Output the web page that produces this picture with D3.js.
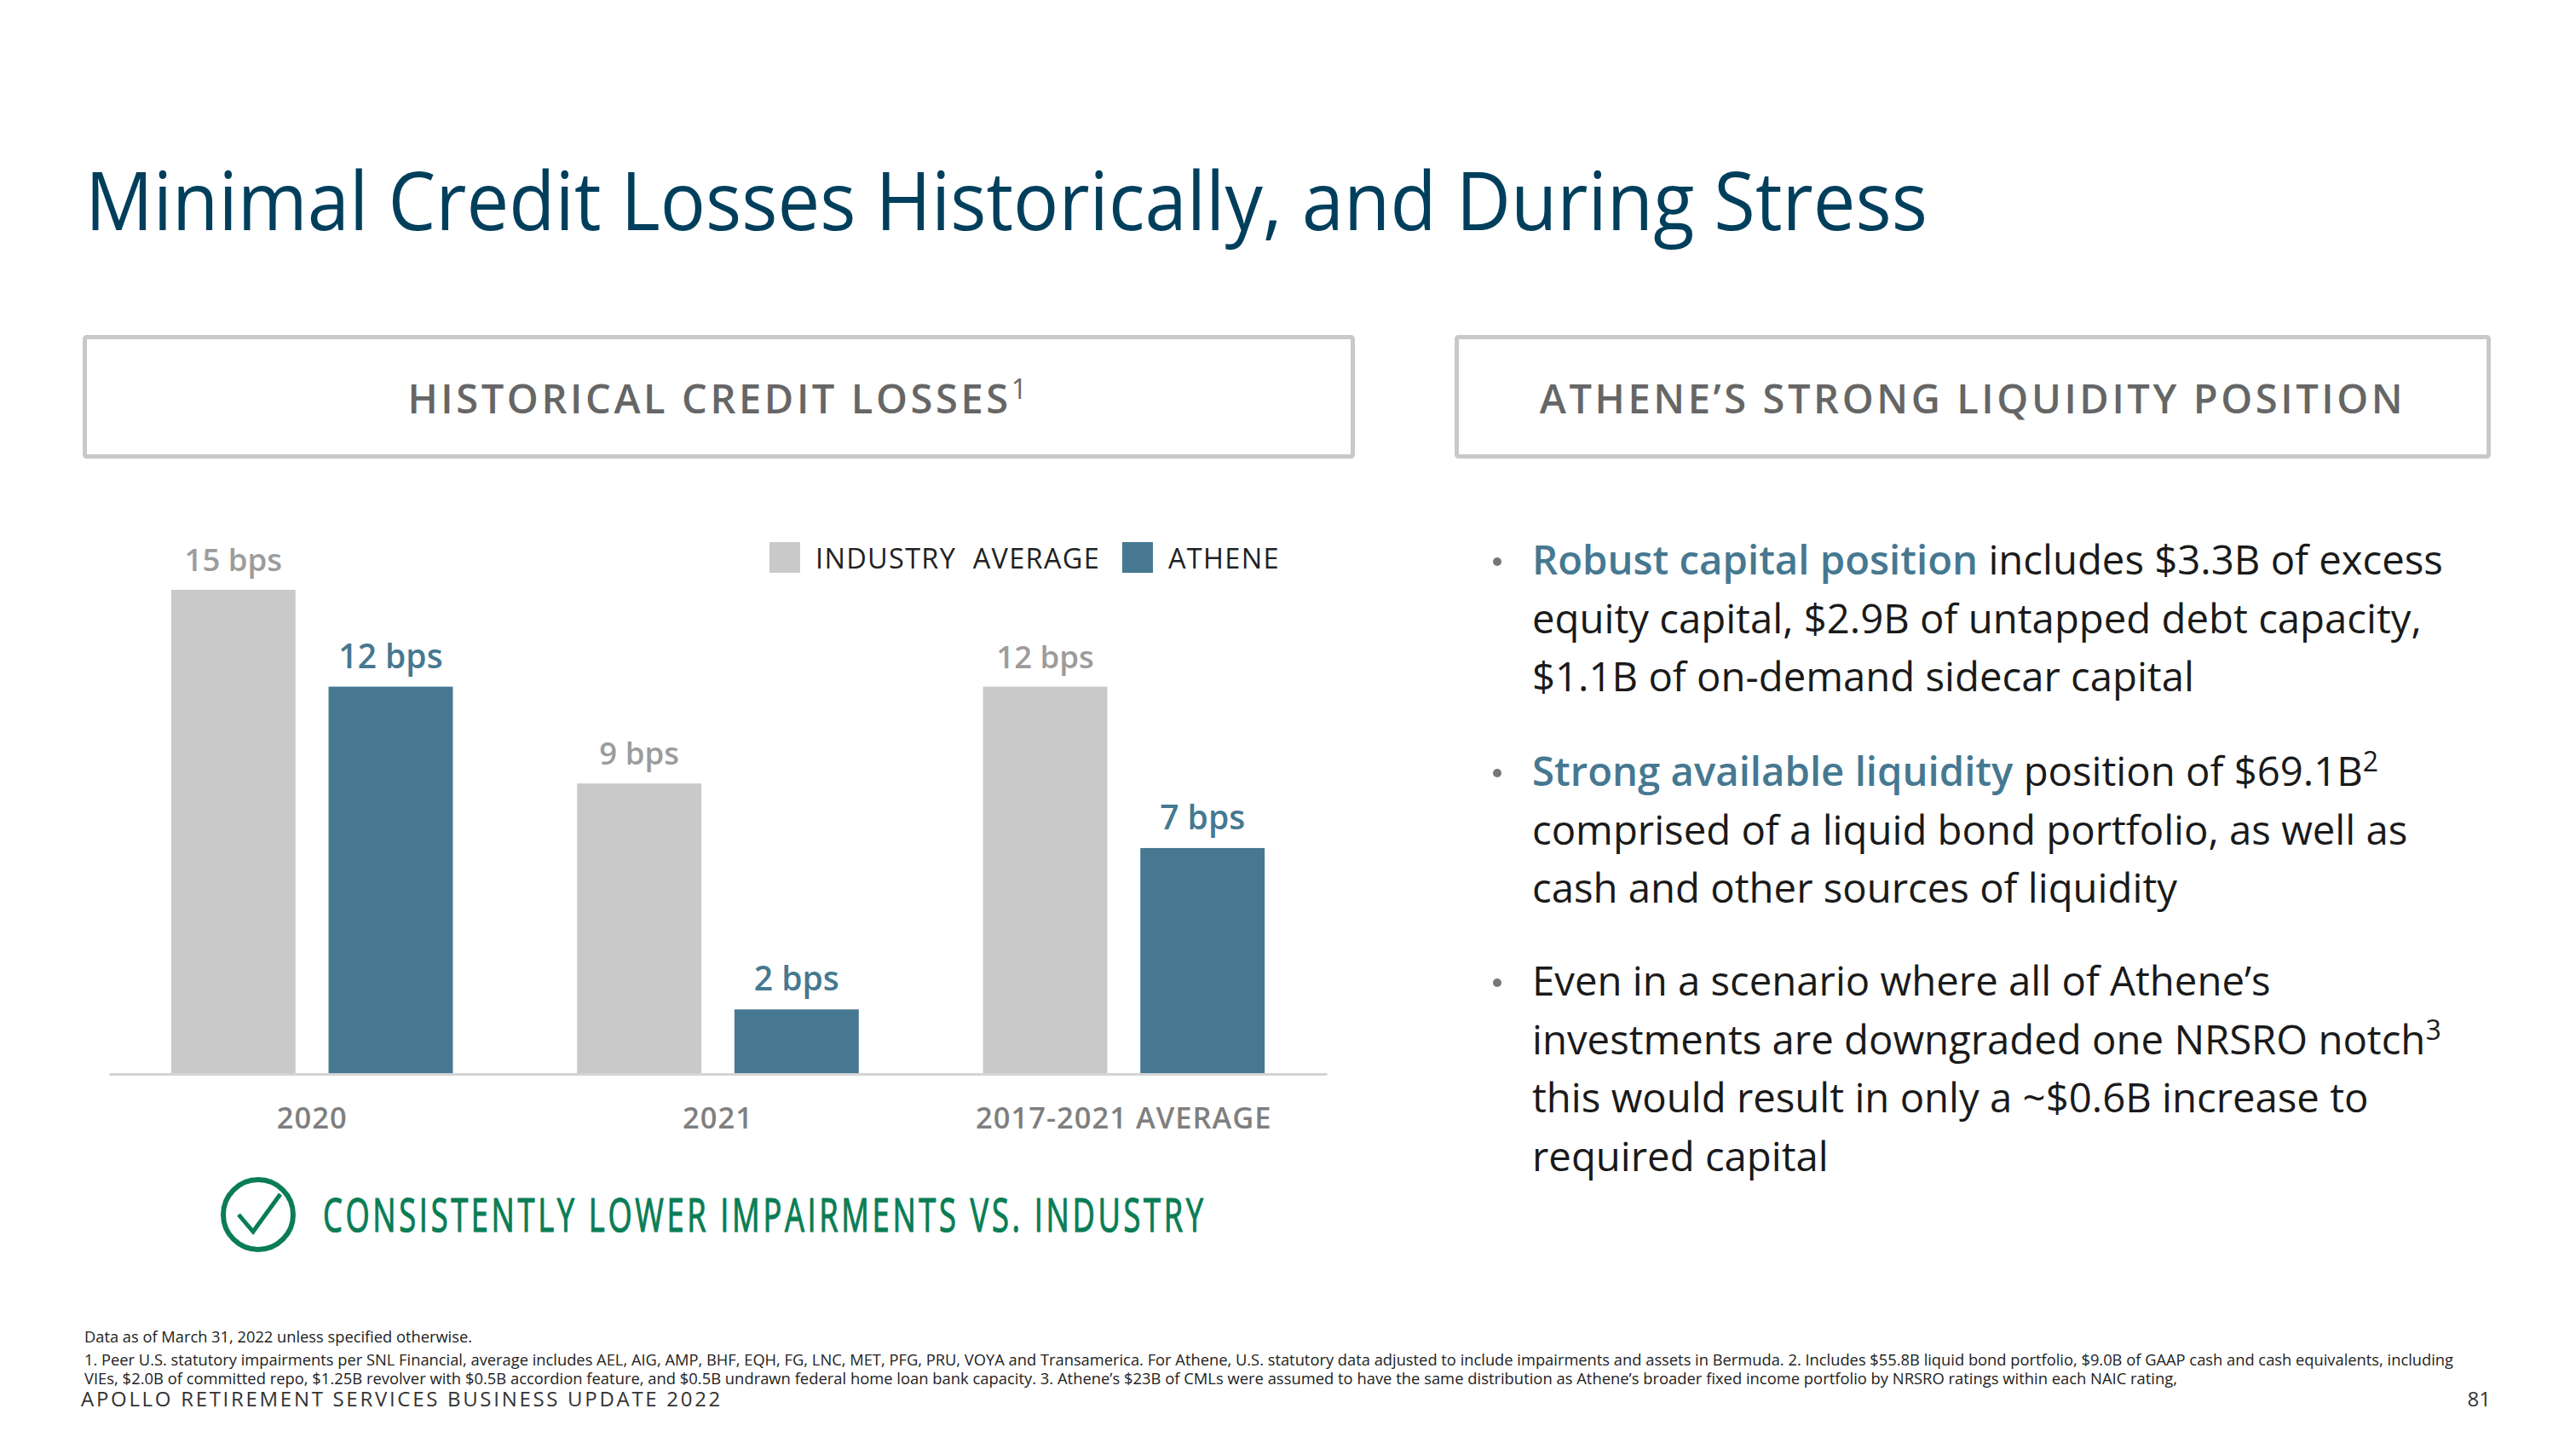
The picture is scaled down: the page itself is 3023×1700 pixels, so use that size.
<!DOCTYPE html>
<html><head><meta charset="utf-8">
<script src="https://cdn.jsdelivr.net/npm/d3@7"></script>
<style>html,body{margin:0;padding:0;background:#fff}svg{display:block}text{font-family:"Open Sans","Noto Sans",sans-serif}</style>
</head><body><div id="c"></div>
<script>
const categories=["2020","2021","2017-2021 AVERAGE"];
const seriesNames=["INDUSTRY  AVERAGE","ATHENE"];
const industryAverage=[15,9,12];
const athene=[12,2,7];
const titleText="Minimal Credit Losses Historically, and During Stress";
const leftHeader="HISTORICAL CREDIT LOSSES";
const rightHeader="ATHENE’S STRONG LIQUIDITY POSITION";
const calloutText="CONSISTENTLY LOWER IMPAIRMENTS VS. INDUSTRY";
const bullets=[
 [[["Robust capital position",1],[" includes $3.3B of excess",0]],[["equity capital, $2.9B of untapped debt capacity,",0]],[["$1.1B of on-demand sidecar capital",0]]],
 [[["Strong available liquidity",1],[" position of $69.1B",0],["2",2]],[["comprised of a liquid bond portfolio, as well as",0]],[["cash and other sources of liquidity",0]]],
 [[["Even in a scenario where all of Athene’s",0]],[["investments are downgraded one NRSRO notch",0],["3",2]],[["this would result in only a ~$0.6B increase to",0]],[["required capital",0]]]
];
const footnotes=[
 "Data as of March 31, 2022 unless specified otherwise.",
 "1. Peer U.S. statutory impairments per SNL Financial, average includes AEL, AIG, AMP, BHF, EQH, FG, LNC, MET, PFG, PRU, VOYA and Transamerica. For Athene, U.S. statutory data adjusted to include impairments and assets in Bermuda. 2. Includes $55.8B liquid bond portfolio, $9.0B of GAAP cash and cash equivalents, including",
 "VIEs, $2.0B of committed repo, $1.25B revolver with $0.5B accordion feature, and $0.5B undrawn federal home loan bank capacity. 3. Athene’s $23B of CMLs were assumed to have the same distribution as Athene’s broader fixed income portfolio by NRSRO ratings within each NAIC rating,"
];
const footerText="APOLLO RETIREMENT SERVICES BUSINESS UPDATE 2022";
const pageNumber="81";

const W=3023,H=1700;
const GREY="#c9c9c9",BLUE="#467891",NAVY="#003f5c",GREEN="#0a7d55";
const svg=d3.select("#c").append("svg").attr("width",W).attr("height",H).attr("viewBox",`0 0 ${W} ${H}`);
svg.append("rect").attr("width",W).attr("height",H).attr("fill","#fff");

svg.append("text").attr("x",100).attr("y",270).attr("font-size",96).attr("fill",NAVY)
  .attr("textLength",2162).attr("lengthAdjust","spacingAndGlyphs").text(titleText);

// header boxes
[[97,393,1493,145,leftHeader,"1"],[1707,393,1216,145,rightHeader,""]].forEach(b=>{
  svg.append("rect").attr("x",b[0]+2.5).attr("y",b[1]+2.5).attr("width",b[2]-5).attr("height",b[3]-5).attr("rx",2)
    .attr("fill","#fff").attr("stroke",GREY).attr("stroke-width",5);
  const t=svg.append("text").attr("x",b[0]+b[2]/2).attr("y",485).attr("text-anchor","middle")
    .attr("font-size",47).attr("font-weight",600).attr("letter-spacing",3.6).attr("fill","#666").text(b[4]);
  if(b[5]) t.append("tspan").attr("font-size",32).attr("font-weight",400).attr("dy",-17).text(b[5]);
});

// chart
const x0=d3.scaleBand().domain(categories).range([128,1557]).paddingInner(0.306).paddingOuter(0.153);
const x1=d3.scaleBand().domain(seriesNames).range([0,x0.bandwidth()]).paddingInner(0.21);
const y=d3.scaleLinear().domain([0,15]).range([1260,692]);
const color=d3.scaleOrdinal().domain(seriesNames).range([GREY,BLUE]);
const labelColor=d3.scaleOrdinal().domain(seriesNames).range(["#9c9c9c",BLUE]);
const rows=categories.map((c,i)=>[[seriesNames[0],industryAverage[i]],[seriesNames[1],athene[i]]]);
const groups=svg.append("g").selectAll("g").data(rows).join("g").attr("transform",(d,i)=>`translate(${x0(categories[i])},0)`);
groups.selectAll("rect").data(d=>d).join("rect")
  .attr("x",d=>x1(d[0])).attr("width",x1.bandwidth()).attr("y",d=>y(d[1])).attr("height",d=>y(0)-y(d[1])).attr("fill",d=>color(d[0]));
groups.selectAll("text").data(d=>d).join("text")
  .attr("x",d=>x1(d[0])+x1.bandwidth()/2).attr("y",d=>y(d[1])-22).attr("text-anchor","middle")
  .attr("font-size",d=>d[0]===seriesNames[1]?39:36.5).attr("font-weight",600).attr("fill",d=>labelColor(d[0])).text(d=>d[1]+" bps");

const axis=svg.append("g").attr("transform",`translate(0,${y(0)})`).call(d3.axisBottom(x0).tickSize(0).tickPadding(40));
axis.select(".domain").attr("stroke","#d4d4d4").attr("stroke-width",3);
axis.selectAll("text").attr("font-size",34.5).attr("font-family",'"Open Sans"').attr("font-weight",600).attr("fill","#7f7f7f").attr("letter-spacing",1);

// legend
const lg=svg.append("g");
[[903,seriesNames[0]],[1317,seriesNames[1]]].forEach(l=>{
  lg.append("rect").attr("x",l[0]).attr("y",636).attr("width",36).attr("height",36).attr("fill",color(l[1]));
  lg.append("text").attr("x",l[0]+54).attr("y",667).attr("font-size",32.5).attr("letter-spacing",1.3).attr("fill","#222").style("white-space","pre").text(l[1]);
});

// callout
svg.append("circle").attr("cx",303).attr("cy",1425).attr("r",41).attr("fill","none").attr("stroke",GREEN).attr("stroke-width",6);
svg.append("path").attr("d","M280 1425L297 1445L329 1401").attr("fill","none").attr("stroke",GREEN).attr("stroke-width",5);
svg.append("text").attr("transform","translate(379,1445) scale(0.66,1)").attr("font-size",55).attr("font-weight",500).attr("fill",GREEN)
  .attr("stroke",GREEN).attr("stroke-width",1.2)
  .attr("font-family","Roboto").attr("textLength",1033/0.66).attr("lengthAdjust","spacing").text(calloutText);

// bullets
const firstBaselines=[674,922,1168];
const lineStep=68.5;
bullets.forEach((lines,bi)=>{
  svg.append("circle").attr("cx",1757).attr("cy",firstBaselines[bi]-15).attr("r",5).attr("fill","#777");
  lines.forEach((runs,li)=>{
    const t=svg.append("text").attr("x",1798).attr("y",firstBaselines[bi]+li*lineStep).attr("font-size",47.3).attr("fill","#1a1a1a").style("white-space","pre");
    runs.forEach(r=>{
      const s=t.append("tspan").text(r[0]);
      if(r[1]===1) s.attr("fill",BLUE).attr("font-weight",600);
      if(r[1]===2) s.attr("font-size",32).attr("dy",-17);
    });
  });
});

// footnotes
const fnY=[1575,1602,1624],fnW=[455,2780,2456];
footnotes.forEach((f,i)=>{
  svg.append("text").attr("x",99).attr("y",fnY[i]).attr("font-size",18.5).attr("fill","#222")
    .attr("textLength",fnW[i]).attr("lengthAdjust","spacingAndGlyphs").text(f);
});
svg.append("text").attr("x",95).attr("y",1650).attr("font-size",24).attr("letter-spacing",2.7).attr("fill","#333").text(footerText);
svg.append("text").attr("x",2923).attr("y",1650).attr("text-anchor","end").attr("font-size",24).attr("fill","#333").text(pageNumber);
</script></body></html>
